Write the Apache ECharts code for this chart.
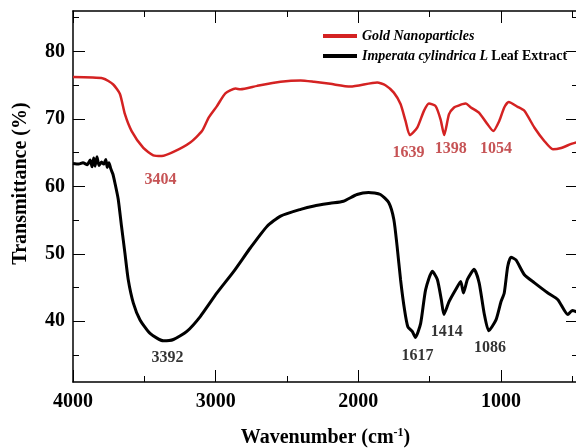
<!DOCTYPE html>
<html>
<head>
<meta charset="utf-8">
<script src="https://cdn.jsdelivr.net/npm/echarts@6/dist/echarts.min.js"></script>
<style>
  html, body { margin: 0; padding: 0; background: #fff; }
  #chart { width: 576px; height: 448px; }
</style>
</head>
<body>
<div id="chart"></div>
<script>
// gold nanoparticles spectrum (wavenumber, transmittance)
var goldWn = [4000,3789,3718,3671,3636,3589,3507,3437,3378,3296,3178,3096,3049,2991,2932,2861,2826,2709,2545,2404,2310,2197,2056,1868,1810,1751,1704,1669,1639,1587,1540,1505,1458,1423,1398,1364,1329,1294,1270,1247,1211,1153,1094,1054,1012,977,946,883,836,765,695,636,578,507,460];
var goldT = [76.2,76.0,75.1,73.7,70.7,68.2,65.7,64.6,64.5,65.1,66.5,68.2,70.2,71.9,73.8,74.5,74.4,74.9,75.5,75.7,75.5,75.2,74.8,75.4,75.0,73.9,72.2,69.7,67.6,68.7,71.2,72.3,71.9,69.9,67.6,70.7,71.7,72.0,72.2,72.3,71.7,70.9,69.2,68.2,69.7,71.7,72.5,71.8,71.2,68.7,66.7,65.5,65.7,66.3,66.6];

// leaf extract spectrum
var leafWn = [4000,3960,3930,3900,3880,3866,3855,3845,3832,3818,3800,3785,3770,3760,3748,3735,3720,3706,3683,3660,3636,3613,3577,3530,3460,3366,3296,3202,3108,2991,2873,2756,2639,2545,2404,2310,2197,2104,2009,1928,1845,1787,1751,1728,1704,1676,1653,1622,1600,1563,1528,1481,1446,1418,1400,1364,1317,1282,1263,1235,1188,1153,1118,1086,1035,1000,977,953,930,895,836,765,671,601,531,500,460];
var leafT = [63.4,63.3,63.5,63.2,63.9,62.9,64.2,63.0,64.4,63.1,63.6,63.3,64.0,62.8,63.5,62.6,61.8,60.5,58.1,54.1,50.1,46.2,42.7,40.2,38.2,37.1,37.3,38.5,40.7,44.2,47.4,50.9,54.1,55.6,56.6,57.1,57.5,57.8,58.8,59.1,58.8,57.6,55.1,51.1,46.2,41.7,39.2,38.5,37.6,39.7,44.7,47.4,46.2,43.2,41.0,42.9,44.7,45.9,44.2,46.2,47.7,45.7,41.2,38.6,40.2,42.9,44.2,48.1,49.5,49.1,46.9,45.7,44.2,43.2,41.0,41.6,41.3];

// peak annotations
var goldPeakText = ['3404','1639','1398','1054'];
var goldPeakX = [3387,1648,1352,1035];
var goldPeakY = [60.9,64.9,65.6,65.6];
var leafPeakText = ['3392','1617','1414','1086'];
var leafPeakX = [3338,1585,1380,1077];
var leafPeakY = [34.6,34.9,38.5,36.1];

// tick values
var xMajor = [1000,2000,3000,4000];
var xMinor = [500,1500,2500,3500];
var yMajor = [40,50,60,70,80];
var yMinor = [35,45,55,65,75,85];

var seriesNames = ['Gold Nanoparticles', 'Imperata cylindrica L Leaf Extract'];

function pairs(xs, ys){
    var out = [];
    for (var i = 0; i < xs.length; i++) out.push([xs[i], ys[i]]);
    return out;
}

var chart = echarts.init(document.getElementById('chart'));
var serif = 'Liberation Serif';
var XMIN = 460, XMAX = 4000, YMIN = 31, YMAX = 86;

function xAx(pos, ticks, len, withLabels, withLine){
    return {
        type: 'value', position: pos, inverse: true, min: XMIN, max: XMAX,
        splitLine: {show: false},
        axisLine: {show: withLine, onZero: false, lineStyle: {color: '#000', width: 1.5}},
        axisTick: {show: true, inside: true, length: len, customValues: ticks, lineStyle: {color: '#000', width: 1}},
        axisLabel: withLabels ? {show: true, customValues: ticks, margin: 10, color: '#000', fontFamily: serif, fontWeight: 'bold', fontSize: 20,
            formatter: function(v){ return String(v); }} : {show: false},
        name: withLabels ? '{t|Wavenumber (cm}{s|-1}{t|)}' : '',
        nameLocation: 'middle', nameGap: 45,
        nameTextStyle: {
            rich: {
                t: {fontFamily: serif, fontWeight: 'bold', fontSize: 20, color: '#000'},
                s: {fontFamily: serif, fontWeight: 'bold', fontSize: 12, color: '#000', padding: [0,0,10,0]}
            }
        }
    };
}
function yAx(pos, ticks, len, withLabels, withLine){
    return {
        type: 'value', position: pos, min: YMIN, max: YMAX,
        splitLine: {show: false},
        axisLine: {show: withLine, onZero: false, lineStyle: {color: '#000', width: 1.5}},
        axisTick: {show: true, inside: true, length: len, customValues: ticks, lineStyle: {color: '#000', width: 1}},
        axisLabel: withLabels ? {show: true, customValues: ticks, margin: 8, color: '#000', fontFamily: serif, fontWeight: 'bold', fontSize: 20,
            formatter: function(v){ return String(v); }} : {show: false},
        name: withLabels ? 'Transmittance (%)' : '',
        nameLocation: 'middle', nameGap: 42,
        nameTextStyle: {fontFamily: serif, fontWeight: 'bold', fontSize: 20, color: '#000', padding: [0, 0, 0, 26]}
    };
}

var option = {
    animation: false,
    backgroundColor: '#fff',
    grid: {left: 73, top: 11, right: -2, bottom: 66, outerBoundsMode: 'none', containLabel: false},
    legend: {
        data: seriesNames,
        orient: 'vertical',
        left: 318, top: 24,
        itemWidth: 34, itemHeight: 4, itemGap: 6,
        icon: 'rect',
        formatter: function(name){
            if (name === seriesNames[0]) return '{i|Gold Nanoparticles}';
            return '{i|Imperata cylindrica L} {n|Leaf Extract}';
        },
        textStyle: {
            lineHeight: 14,
            rich: {
                i: {fontFamily: serif, fontStyle: 'italic', fontWeight: 'bold', fontSize: 14, color: '#000'},
                n: {fontFamily: serif, fontWeight: 'bold', fontSize: 14, color: '#000'}
            }
        }
    },
    xAxis: [
        xAx('bottom', xMajor, 12, true, true),
        xAx('bottom', xMinor, 6, false, false),
        xAx('top', xMajor, 12, false, true),
        xAx('top', xMinor, 6, false, false)
    ],
    yAxis: [
        yAx('left', yMajor, 12, true, true),
        yAx('left', yMinor, 6, false, false),
        yAx('right', yMajor, 12, false, true),
        yAx('right', yMinor, 6, false, false)
    ],
    series: [
        {
            name: seriesNames[0], type: 'line', data: pairs(goldWn, goldT),
            showSymbol: false, smooth: 0.2, color: '#d42222',
            lineStyle: {width: 2.5, color: '#d42222'}, z: 3
        },
        {
            name: seriesNames[1], type: 'line', data: pairs(leafWn, leafT),
            showSymbol: false, smooth: 0.2, color: '#000',
            lineStyle: {width: 3, color: '#000'}, z: 2
        },
        {
            type: 'scatter', symbolSize: 0, silent: true,
            data: pairs(goldPeakX, goldPeakY).map(function(p, i){ return {value: p, name: goldPeakText[i]}; }),
            label: {show: true, position: 'inside', formatter: '{b}', color: '#b8282a', fontFamily: serif, fontWeight: 'bold', fontSize: 16}
        },
        {
            type: 'scatter', symbolSize: 0, silent: true,
            data: pairs(leafPeakX, leafPeakY).map(function(p, i){ return {value: p, name: leafPeakText[i]}; }),
            label: {show: true, position: 'inside', formatter: '{b}', color: '#000', fontFamily: serif, fontWeight: 'bold', fontSize: 16}
        }
    ]
};

chart.setOption(option);
</script>
</body>
</html>
